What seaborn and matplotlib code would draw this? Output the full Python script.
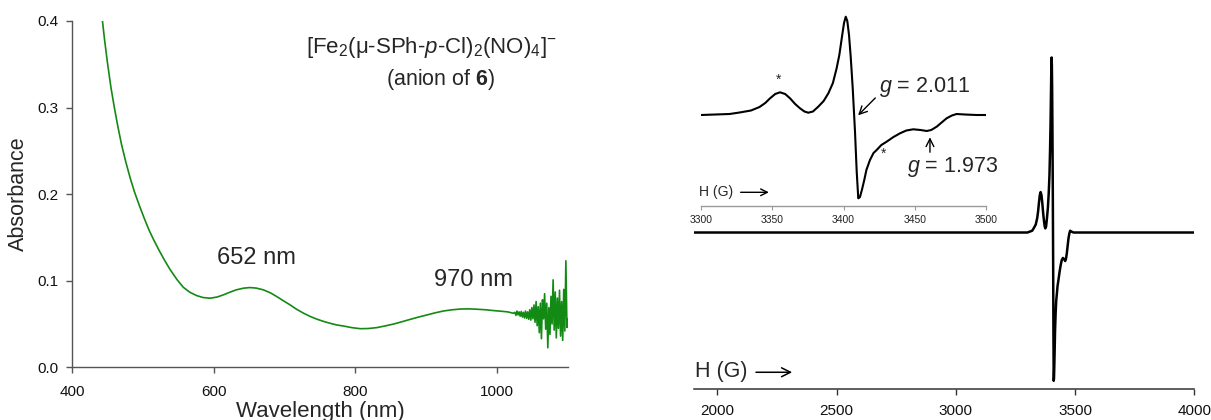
import matplotlib
matplotlib.use("Agg")
import matplotlib.pyplot as plt
import seaborn as sns
import pandas as pd

# ---------------- data ----------------
# UV-vis spectrum (wavelength nm, absorbance)
uv_wavelength = [443, 446, 450, 455, 460, 465, 470, 476, 482, 488, 495, 502, 509, 516, 523,
                 530, 538, 548, 557, 566, 576, 585, 595, 605, 614, 623, 632, 642, 651, 660,
                 670, 680, 689, 698, 708, 717, 727, 736, 746, 755, 764, 773, 783, 795, 807,
                 818, 830, 842, 854, 866, 877, 889, 901, 913, 924, 936, 948, 960, 971, 983,
                 995, 1005, 1015, 1023,
                 1025, 1026.5, 1028, 1029.5, 1031, 1032.5, 1034, 1035.5, 1037, 1038.5,
                 1040, 1041.5, 1043, 1044.5, 1046, 1047.5, 1049, 1050.5, 1052, 1053.5,
                 1055, 1056.5, 1058, 1059.5, 1061, 1062.5, 1064, 1065.5, 1067, 1068.5,
                 1070, 1071.5, 1073, 1074.5, 1076, 1077.5, 1079, 1080.5, 1082, 1083.5,
                 1085, 1086.5, 1088, 1089.5, 1091, 1092.5, 1094, 1095.5, 1097, 1098.5, 1100]
uv_absorbance = [0.400, 0.378, 0.352, 0.323, 0.299, 0.277, 0.257, 0.237, 0.219, 0.203, 0.187,
                 0.172, 0.158, 0.146, 0.135, 0.1245, 0.1135, 0.1015, 0.0925, 0.0868, 0.0828,
                 0.0806, 0.0798, 0.0812, 0.0838, 0.0868, 0.0895, 0.0914, 0.0921, 0.0915,
                 0.0895, 0.0860, 0.0817, 0.0770, 0.0720, 0.0670, 0.0624, 0.0588, 0.0555,
                 0.0530, 0.0509, 0.0490, 0.0477, 0.0458, 0.0446, 0.0448, 0.0458, 0.0478,
                 0.0500, 0.0527, 0.0553, 0.0580, 0.0605, 0.0630, 0.0650, 0.0664, 0.0673,
                 0.0675, 0.0671, 0.0665, 0.0655, 0.0648, 0.0640, 0.0624,
                 0.0635, 0.0600, 0.0650, 0.0605, 0.0640, 0.0590, 0.0645, 0.0580, 0.0635, 0.0570,
                 0.0650, 0.0565, 0.0640, 0.0555, 0.0665, 0.0545, 0.0690, 0.0560, 0.0720, 0.0520,
                 0.0760, 0.0480, 0.0700, 0.0400, 0.0740, 0.0330, 0.0780, 0.0560, 0.0850, 0.0440,
                 0.0740, 0.0225, 0.0690, 0.0380, 0.0820, 0.0500, 0.1010, 0.0430, 0.0870, 0.0340,
                 0.0800, 0.0450, 0.0890, 0.0360, 0.0760, 0.0310, 0.0900, 0.0420, 0.1230, 0.0460,
                 0.0560]

# EPR spectrum (field G, derivative intensity, arb. units)
epr_field = [1900, 3200, 3300, 3320, 3327, 3335, 3341, 3345, 3348.4, 3352, 3355.4, 3359,
             3362.4, 3366, 3369.4, 3372.5, 3375.2, 3378.5, 3382.2, 3386, 3389.3, 3392.5,
             3395.1, 3397, 3398.7, 3400.3, 3401.5, 3402.6, 3403.8, 3405, 3406.4, 3408,
             3409.2, 3410.3, 3411.5, 3413, 3414.5, 3416, 3418.5, 3421, 3423.2, 3426.5,
             3430.2, 3435, 3439.6, 3444, 3448.9, 3454, 3458.3, 3461.5, 3465.3, 3468.8,
             3472.3, 3476, 3479.3, 3485, 3493.4, 3500, 4000]
epr_signal = [0, 0, 0, 1, 2.5, 4.5, 8, 12, 16.7, 21, 22.7, 21,
              16.7, 11, 6.7, 3.5, 2.3, 3.5, 8.3, 14, 21.7, 32,
              46.7, 60, 76.7, 92, 98.3, 94, 80, 58, 26.7, -16.7,
              -56.7, -83.3, -82, -74, -65, -55, -45, -38, -35, -30,
              -26.7, -22, -18.3, -15.5, -14.3, -15, -16, -15, -11.7, -7.5,
              -3.3, -0.5, 1, 0.5, 0, 0, 0]

uv_ticks = [400, 600, 800, 1000]
abs_ticks = [0.0, 0.1, 0.2, 0.3, 0.4]
epr_ticks = [2000, 2500, 3000, 3500, 4000]
inset_ticks = [3300, 3350, 3400, 3450, 3500]

uv_df = pd.DataFrame({"wl": uv_wavelength, "A": uv_absorbance})
epr_df = pd.DataFrame({"H": epr_field, "I": epr_signal})
inset_df = epr_df[(epr_df["H"] >= 3300) & (epr_df["H"] <= 3500)]

# ---------------- style ----------------
sns.set_style("ticks")
plt.rcParams["font.family"] = ["Liberation Sans", "DejaVu Sans"]
plt.rcParams["mathtext.fontset"] = "custom"
plt.rcParams["mathtext.rm"] = "Liberation Sans"
plt.rcParams["mathtext.it"] = "Liberation Sans:italic"
plt.rcParams["mathtext.bf"] = "Liberation Sans:bold"

fig = plt.figure(figsize=(12.11, 4.2), dpi=100)
axis_col = "#555555"

# ---------------- left: UV-vis ----------------
ax1 = fig.add_axes([72 / 1211, 1 - 367.3 / 420, 496 / 1211, (367.3 - 21) / 420])
sns.lineplot(data=uv_df, x="wl", y="A", ax=ax1, color="#138a13", linewidth=1.2)
ax1.set_xlim(400, 1100)
ax1.set_ylim(0, 0.4)
ax1.set_xticks(uv_ticks)
ax1.set_yticks(abs_ticks)
ax1.set_yticklabels([f"{v:.1f}" for v in abs_ticks])
for s in ["top", "right"]:
    ax1.spines[s].set_visible(False)
for s in ["left", "bottom"]:
    ax1.spines[s].set_color(axis_col)
    ax1.spines[s].set_linewidth(1.0)
ax1.tick_params(axis="both", direction="out", length=4.5, width=1, color=axis_col,
                labelsize=11, labelcolor="#111111")
ax1.tick_params(axis="x", pad=8)
ax1.tick_params(axis="y", pad=5)
ax1.set_xlabel("Wavelength (nm)", fontsize=16, labelpad=2)
ax1.set_ylabel("Absorbance", fontsize=15.5, labelpad=6)
ax1.text(660, 0.1264, "652 nm", fontsize=17, ha="center", va="center")
ax1.text(967, 0.101, "970 nm", fontsize=17, ha="center", va="center")
ax1.text(907, 0.369, r"[Fe$_2$(μ-SPh-$p$-Cl)$_2$(NO)$_4$]$^{-}$", fontsize=16,
         ha="center", va="center")
ax1.text(920, 0.332, r"(anion of $\mathbf{6}$)", fontsize=15.5, ha="center", va="center")

# ---------------- right: EPR main ----------------
ax2 = fig.add_axes([693.6 / 1211, 1 - 389 / 420, 500.7 / 1211, 389 / 420])
ax2.patch.set_alpha(0)
sns.lineplot(data=epr_df, x="H", y="I", ax=ax2, color="black", linewidth=1.8)
ax2.set_xlim(1900, 4000)
ax2.set_ylim(-87.9, 130.6)
ax2.set_xticks(epr_ticks)
ax2.set_yticks([])
ax2.set_xlabel("")
ax2.set_ylabel("")
for s in ["top", "right", "left"]:
    ax2.spines[s].set_visible(False)
ax2.spines["bottom"].set_color("#333333")
ax2.spines["bottom"].set_linewidth(1.1)
ax2.tick_params(axis="x", direction="out", length=4.5, width=1, color="#333333",
                labelsize=11, pad=6, labelcolor="#111111")
ax2.text(1907, -77.9, "H (G)", fontsize=15.5, ha="left", va="center")
ax2.annotate("", xy=(2325, -78.5), xytext=(2150, -78.5),
             arrowprops=dict(arrowstyle="->", lw=1.1, color="black", mutation_scale=16))

# ---------------- right: EPR inset ----------------
ax3 = fig.add_axes([701.1 / 1211, 1 - 205.7 / 420, 285 / 1211, 205.7 / 420])
ax3.patch.set_alpha(0)
sns.lineplot(data=inset_df, x="H", y="I", ax=ax3, color="black", linewidth=1.5)
ax3.set_xlim(3300, 3500)
ax3.set_ylim(-90.7, 115)
ax3.set_xticks(inset_ticks)
ax3.set_yticks([])
ax3.set_xlabel("")
ax3.set_ylabel("")
for s in ["top", "right", "left"]:
    ax3.spines[s].set_visible(False)
ax3.spines["bottom"].set_color("#999999")
ax3.spines["bottom"].set_linewidth(1.0)
ax3.tick_params(axis="x", direction="out", length=3, width=0.8, color="#999999",
                labelsize=7.5, pad=4, labelcolor="#222222")
ax3.text(3298.3, -77.3, "H (G)", fontsize=10, ha="left", va="center")
ax3.annotate("", xy=(3349.5, -77.3), xytext=(3325.8, -77.3),
             arrowprops=dict(arrowstyle="->", lw=1.0, color="black", mutation_scale=12))
ax3.text(3354.4, 35, "*", fontsize=10, ha="center", va="center")
ax3.text(3427.9, -39, "*", fontsize=10, ha="center", va="center")
ax3.text(3425.0, 28, "$g$ = 2.011", fontsize=15.5, ha="left", va="center")
ax3.annotate("", xy=(3408.8, -2.3), xytext=(3423.6, 19),
             arrowprops=dict(arrowstyle="->", lw=1.0, color="black", mutation_scale=14))
ax3.text(3444.5, -52, "$g$ = 1.973", fontsize=15.5, ha="left", va="center")
ax3.annotate("", xy=(3460.6, -19.5), xytext=(3460.6, -40),
             arrowprops=dict(arrowstyle="->", lw=1.0, color="black", mutation_scale=14))

fig.savefig("out.png", dpi=100)
